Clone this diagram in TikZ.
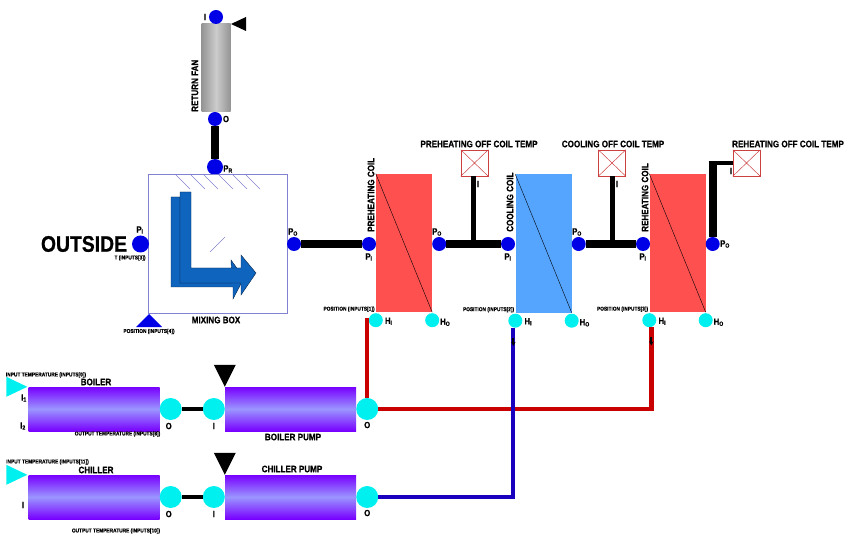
\documentclass[tikz,border=0pt]{standalone}
\usepackage{fontspec}
\setmainfont{Liberation Sans}[BoldFeatures={FakeStretch=0.86,FakeBold=0.7}]
\usetikzlibrary{arrows.meta,calc}
\definecolor{PortBlue}{RGB}{0,0,230}
\definecolor{PortCyan}{RGB}{0,240,240}
\definecolor{CoilRed}{RGB}{255,80,80}
\definecolor{CoilBlue}{RGB}{85,165,255}
\definecolor{ArrowBlue}{RGB}{15,100,190}
\definecolor{BoxLine}{RGB}{130,130,210}
\definecolor{TankEdge}{RGB}{120,0,255}
\definecolor{TankMid}{RGB}{155,150,255}
\definecolor{HotPipe}{RGB}{200,0,0}
\definecolor{ColdPipe}{RGB}{25,0,190}

\begin{document}
\begin{tikzpicture}[x=1pt,y=-1pt,>=Stealth]
        \tikzset{
          lbl/.style={font=\bfseries\fontsize{9.4}{10}\selectfont,inner sep=0pt},
          sub/.style={font=\bfseries\fontsize{9}{9}\selectfont,inner sep=0pt},
          tiny/.style={font=\bfseries\fontsize{5.6}{6}\selectfont,inner sep=0pt},
          port/.style={circle,fill=PortBlue,inner sep=0pt,minimum size=14pt},
          hport/.style={circle,fill=PortCyan,inner sep=0pt,minimum size=14pt},
          wport/.style={circle,fill=PortCyan,inner sep=0pt,minimum size=22pt},
          coil/.style={inner sep=0pt,minimum width=56pt,minimum height=138pt},
          tank/.style={inner sep=0pt,minimum width=131pt,minimum height=44pt,top color=TankEdge,bottom color=TankEdge,middle color=TankMid},
          sensor/.style={draw=CoilRed!80!black,line width=0.5pt,inner sep=0pt,minimum width=27pt,minimum height=26pt},
          duct/.style={line width=8pt,black},
          tap/.style={line width=5pt,black},
          hot/.style={line width=4.5pt,HotPipe},
          cold/.style={line width=4pt,ColdPipe},
          valve/.style={-{Stealth[length=4pt,width=4.5pt]},line width=2pt,black}
        }
        \useasboundingbox (0,0) rectangle (845,534);
        % return fan
        \node[inner sep=0pt,minimum width=29pt,minimum height=88pt,left color=black!42,right color=black!42,middle color=black!20] (fan) at (216,68) {};
        \node[port] (fani) at (216,17) {};
        \node[port] (fano) at (215,119) {};
        \node[port,minimum size=16pt] (pr) at (215,167) {};
        \fill (231,24) -- (246,17) -- (246,31) -- cycle;
        \node[lbl,rotate=90,anchor=west] at (195,112) {RETURN FAN};
        \node[sub] at (205,17) {I};
        \node[sub] at (226,119) {O};
        \node[sub] at (228,169) {P\textsubscript{R}};
        % mixing box
        \node[draw=BoxLine,line width=0.7pt,inner sep=0pt,minimum width=139pt,minimum height=139pt] (mix) at (217.5,243.5) {};
        \foreach \x in {175,190,203,218,232,245}{\draw[BoxLine,line width=0.5pt] (\x,174) -- ++(15,15);}
        \draw[BoxLine,line width=0.5pt] (210,252) -- (225,237);
        \draw[fill=ArrowBlue,draw=black!60!ArrowBlue,line width=0.4pt] (171,197) -- (180,197) -- (180,283) -- (232,283) -- (231,260) -- (244,278) -- (233,299) -- (233,287) -- (171,287) -- cycle;
        \draw[fill=ArrowBlue,draw=black!60!ArrowBlue,line width=0.4pt] (180,192) -- (191,192) -- (191,268) -- (241,268) -- (241,255) -- (256,273) -- (241,295) -- (241,283) -- (180,283) -- cycle;
        \node[lbl] at (216,320) {MIXING BOX};
        \node[tiny] at (149,331.5) {POSITION (INPUTS[4])};
        \fill[PortBlue] (149,314) -- (162,327) -- (136,327) -- cycle;
        \node[font=\bfseries\fontsize{22.5}{23}\selectfont,inner sep=0pt] at (84,244) {OUTSIDE};
        \node[port,minimum size=17pt] (pi) at (140.5,244) {};
        \node[sub] at (140,230) {P\textsubscript{I}};
        \node[tiny] at (130,258) {T (INPUTS[3])};
        \node[port] (po) at (294,244) {};
        \node[sub] at (293,232) {P\textsubscript{O}};
        % coils
        \node[coil,fill=CoilRed] (coila) at (404,243) {};
        \node[coil,fill=CoilBlue] (coilb) at (543.5,243.5) {};
        \node[coil,fill=CoilRed] (coilc) at (677.5,243) {};
        \foreach \c/\n/\t/\x/\s in {coila/a/PREHEATING COIL/369/[1],coilb/b/COOLING COIL/508/[2],coilc/c/REHEATING COIL/643/[3]}{
          \draw[line width=0.4pt] (\c.north west) -- (\c.south east);
          \node[port] (pi\n) at (\x,244) {};
          \node[port] (po\n) at ($(\c.east |- pi\n)+(7,0)$) {};
          \node[hport] (hi\n) at ($(\c.south west)+(0,8)$) {};
          \node[hport] (ho\n) at ($(\c.south east)+(0,8)$) {};
          \node[sub] at ($(pi\n)+(0,13)$) {P\textsubscript{I}};
          \node[lbl,rotate=90,anchor=west] at ($(pi\n)+(2,-12)$) {\t};
          \node[sub] at ($(hi\n)+(13,1)$) {H\textsubscript{I}};
          \node[sub] at ($(ho\n)+(13,2)$) {H\textsubscript{O}};
          \node[tiny,anchor=east] at ($(\c.south west)+(-1,-3)$) {POSITION (INPUTS\s)};
        }
        \node[sub] at (437,232) {P\textsubscript{O}};
        \node[sub] at (577,232) {P\textsubscript{O}};
        \node[sub] at (725,244) {P\textsubscript{O}};
        % off coil sensors
        \node[sensor] (sa) at (474.5,163) {};
        \node[sensor] (sb) at (612,163) {};
        \node[sensor] (sc) at (746.5,163) {};
        \foreach \s in {sa,sb,sc}{
          \draw[CoilRed!80!black,line width=0.5pt] (\s.north west) -- (\s.south east) (\s.north east) -- (\s.south west);
        }
        \node[lbl] at (479,144) {PREHEATING OFF COIL TEMP};
        \node[lbl] at (613,144) {COOLING OFF COIL TEMP};
        \node[lbl] at (788,144) {REHEATING OFF COIL TEMP};
        \node[sub] at (478,184) {I};
        \node[sub] at (617,184) {I};
        \node[sub] at (731,171) {I};
        % air path
        \draw[duct] (fano) -- (pr);
        \draw[duct] (po) -- (pia);
        \draw[duct] (poa) -- (pib);
        \draw[duct] (pob) -- (pic);
        \draw[tap] ([xshift=-1.5pt]sa.south) -- ([xshift=-1.5pt]sa.south |- poa);
        \draw[tap] (sb.south) -- (sb.south |- pob);
        \draw[duct] (poc.north) -- ++(0,-74) coordinate (bend);
        \draw[line width=4pt] ($(bend)+(-4,0)$) -- (sc.west |- bend);
        % boiler and chiller
        \node[tank] (boiler) at (94,409) {};
        \node[tank] (bpump) at (290.5,409) {};
        \node[tank] (chiller) at (94,497) {};
        \node[tank] (cpump) at (290.5,497) {};
        \foreach \t/\n in {boiler/b,chiller/c}{
          \node[wport] (to\n) at ($(\t.east)+(11,0)$) {};
          \fill[PortCyan] (\t.north west) ++(-1,0) -- ++(-21,-10) -- ++(0,20) -- cycle;
          \node[sub] at ($(to\n)+(-2,17)$) {O};
        }
        \foreach \t/\n in {bpump/b,cpump/c}{
          \node[wport] (pi\n x) at ($(\t.west)+(-11,0)$) {};
          \node[wport] (po\n x) at ($(\t.east)+(11,0)$) {};
          \fill (\t.north west) -- ++(-11,-22) -- ++(22,0) -- cycle;
          \node[sub] at ($(pi\n x)+(0,17)$) {I};
          \node[sub] at ($(po\n x)+(0,16)$) {O};
          \draw[line width=4pt] (to\n) -- (pi\n x);
        }
        \node[tiny] at (46,375) {INPUT TEMPERATURE (INPUTS[0])};
        \node[tiny] at (47.5,462) {INPUT TEMPERATURE (INPUTS[11])};
        \node[tiny] at (117.5,434) {OUTPUT TEMPERATURE (INPUTS[8])};
        \node[tiny] at (116,531) {OUTPUT TEMPERATURE (INPUTS[10])};
        \node[lbl] at (96,382) {BOILER};
        \node[lbl] at (96,470) {CHILLER};
        \node[lbl] at (293,437) {BOILER PUMP};
        \node[lbl] at (292,469) {CHILLER PUMP};
        \node[sub] at (24,398) {I\textsubscript{1}};
        \node[sub] at (23,426) {I\textsubscript{2}};
        \node[sub] at (23,505) {I};
        % water pipes
        \draw[hot] (pobx.north) |- (hia.west);
        \draw[hot] (pobx.east) -| ([xshift=2pt]hic.south);
        \draw[cold] (pocx.east) -| ([xshift=-2pt]hib.south);
        \draw[valve] ($(hib.south)+(-2,10)$) -- ++(0,8);
        \draw[valve] ($(hic.south)+(2,10)$) -- ++(0,8);
      \end{tikzpicture}
\end{document}
